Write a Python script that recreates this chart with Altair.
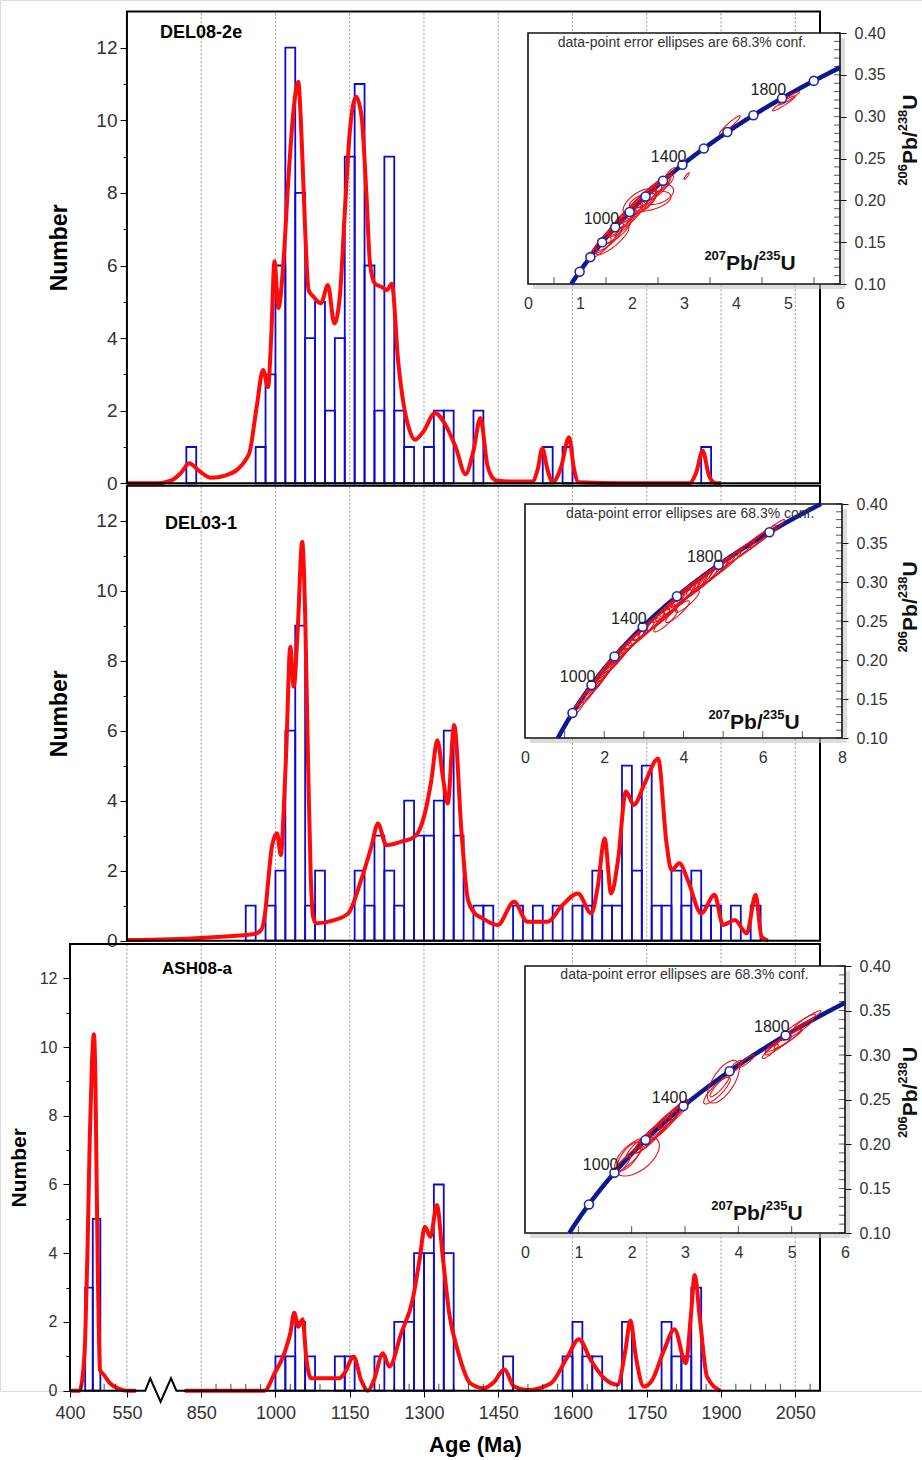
import altair as alt
import numpy as np
import pandas as pd

FONT = "Arial"
W, H = 922, 1391
L238, L235 = 1.55125e-10, 9.8485e-10

# ---------------- histogram data (lower bin edge, Ma; 20 Ma bins) ----------------
P1_BIN = [820, 960, 980, 1000, 1020, 1040, 1060, 1080, 1100, 1120, 1140, 1160, 1180, 1200, 1220, 1240,
          1260, 1300, 1320, 1340, 1400, 1540, 1580, 1860]
P1_N = [1, 1, 3, 6, 12, 8, 4, 5, 2, 4, 9, 11, 6, 2, 9, 2, 1, 1, 2, 2, 2, 1, 1, 1]

P2_BIN = [940, 980, 1000, 1020, 1040, 1060, 1080, 1160, 1180, 1200, 1220, 1240, 1260, 1280, 1300, 1320,
          1340, 1360, 1400, 1420, 1480, 1520, 1560, 1600, 1620, 1640, 1660, 1680, 1700, 1720, 1740, 1760,
          1780, 1800, 1820, 1840, 1860, 1880, 1920, 1960]
P2_N = [1, 1, 2, 6, 9, 1, 2, 2, 1, 3, 2, 1, 4, 3, 3, 4, 6, 3, 1, 1, 1, 1, 1, 1, 1, 2, 1, 1, 5, 2, 5, 1,
        1, 2, 1, 2, 1, 1, 1, 1]

P3_BIN = [440, 460, 1000, 1020, 1040, 1060, 1120, 1140, 1200, 1240, 1260, 1280, 1300, 1320, 1340, 1460,
          1580, 1600, 1620, 1640, 1700, 1780, 1800, 1820, 1840]
P3_N = [3, 5, 1, 1, 2, 1, 1, 1, 1, 2, 2, 4, 4, 6, 4, 1, 1, 2, 1, 1, 2, 2, 1, 1, 3]

# ---------------- probability density curves (age Ma, number) ----------------
P1_AGE = [700, 760, 790, 810, 826, 845, 870, 900, 925, 940, 948, 962, 975, 985, 992, 998, 1006, 1016,
          1026, 1036, 1046, 1053, 1060, 1067, 1077, 1092, 1106, 1119, 1130, 1140, 1150, 1163, 1174, 1184,
          1191, 1201, 1215, 1225, 1235, 1248, 1259, 1270, 1282, 1300, 1322, 1343, 1364, 1384, 1400, 1414,
          1428, 1436, 1446, 1480, 1519, 1530, 1539, 1550, 1560, 1577, 1593, 1603, 1612, 1700, 1836, 1850,
          1863, 1876, 1890, 1900]
P1_VAL = [0, 0, 0.08, 0.3, 0.55, 0.35, 0.15, 0.22, 0.4, 0.65, 0.87, 2.1, 3.12, 2.65, 4.2, 6.12, 4.83,
          6.07, 8.35, 10.2, 11.06, 9.46, 6.98, 5.32, 5.14, 4.96, 5.46, 4.4, 5.14, 7.44, 9.65, 10.65, 10.1,
          7.9, 6.05, 5.5, 5.41, 5.32, 5.5, 3.35, 2.17, 1.5, 1.2, 1.45, 1.94, 1.62, 1.0, 0.25, 0.9, 1.8,
          0.5, 0.2, 0.08, 0.05, 0.05, 0.4, 0.96, 0.35, 0.03, 0.45, 1.27, 0.4, 0.03, 0, 0, 0.3,
          0.9, 0.2, 0, 0]

P2_AGE = [700, 850, 957, 971, 980, 986, 993, 1003, 1011, 1016, 1022, 1030, 1037, 1045, 1054, 1060, 1066,
          1071, 1076, 1082, 1119, 1147, 1173, 1194, 1207, 1224, 1254, 1281, 1302, 1315, 1327, 1339, 1348,
          1361, 1376, 1389, 1403, 1416, 1449, 1482, 1509, 1550, 1577, 1611, 1638, 1651, 1665, 1678, 1692,
          1708, 1724, 1746, 1773, 1790, 1800, 1816, 1833, 1860, 1887, 1904, 1928, 1952, 1970, 1982, 1995]
P2_VAL = [0.02, 0.08, 0.19, 0.3, 0.9, 1.8, 2.7, 3.07, 2.45, 3.5, 5.5, 8.4, 7.26, 8.9, 11.4, 9.35, 5.0,
          2.0, 0.69, 0.5, 0.59, 0.78, 1.73, 2.7, 3.35, 2.73, 2.83, 2.97, 3.65, 4.59, 5.73, 4.59, 3.92,
          6.16, 3.07, 1.16, 0.78, 0.66, 0.45, 1.11, 0.54, 0.54, 0.97, 1.35, 0.78, 1.54, 2.92, 1.35, 2.3,
          4.26, 3.88, 4.5, 5.2, 2.78, 2.02, 2.21, 1.73, 0.78, 1.31, 0.45, 0.59, 0.21, 1.31, 0.11, 0]

P3A_AGE = [400, 425, 432, 440, 446, 452, 458, 463, 467, 470, 474, 479, 490, 505, 530, 550, 586]
P3A_VAL = [0, 0, 0.3, 1.5, 4.0, 7.3, 9.6, 10.37, 9.0, 6.3, 3.0, 0.6, 0.45, 0.22, 0.05, 0, 0]
P3B_AGE = [784, 850, 978, 998, 1018, 1030, 1038, 1046, 1055, 1062, 1072, 1100, 1129, 1139, 1158, 1173,
           1187, 1199, 1217, 1230, 1254, 1277, 1291, 1302, 1313, 1326, 1338, 1351, 1368, 1394, 1421, 1442,
           1462, 1482, 1509, 1556, 1590, 1613, 1637, 1664, 1691, 1707, 1717, 1728, 1744, 1761, 1785, 1806,
           1829, 1839, 1847, 1857, 1872, 1899]
P3B_VAL = [0, 0, 0, 0.5, 1.09, 1.67, 2.27, 1.86, 2.08, 0.99, 0.36, 0.36, 0.36, 0.5, 0.99, 0.31, 0.0,
           0.31, 1.09, 0.7, 1.67, 2.64, 3.8, 4.77, 4.48, 5.4, 3.9, 2.25, 1.18, 0.21, 0.07, 0.26, 0.62,
           0.12, 0.02, 0.21, 0.99, 1.5, 0.89, 0.36, 0.17, 1.18, 2.04, 0.99, 0.12, 0.31, 1.18, 1.79, 0.8,
           2.15, 3.37, 2.15, 0.4, 0]

# ---------------- concordia insets: error ellipses (x, sx, y, sy, rho) ----------------
E1 = [(1.40, 0.20, 0.144, 0.012, 0.8), (1.48, 0.22, 0.150, 0.013, 0.8), (1.55, 0.25, 0.154, 0.014, 0.8),
      (1.62, 0.22, 0.160, 0.013, 0.8), (1.70, 0.28, 0.163, 0.015, 0.8), (1.75, 0.22, 0.170, 0.012, 0.8),
      (1.80, 0.25, 0.171, 0.014, 0.8), (1.86, 0.22, 0.178, 0.012, 0.8), (1.92, 0.28, 0.180, 0.015, 0.8),
      (1.98, 0.22, 0.186, 0.012, 0.8), (2.05, 0.25, 0.188, 0.014, 0.8), (2.12, 0.22, 0.195, 0.012, 0.8),
      (2.18, 0.28, 0.196, 0.015, 0.8), (2.25, 0.22, 0.203, 0.012, 0.8), (2.32, 0.25, 0.205, 0.014, 0.8),
      (2.40, 0.22, 0.211, 0.012, 0.8), (2.47, 0.25, 0.213, 0.014, 0.8), (2.55, 0.20, 0.219, 0.011, 0.8),
      (2.62, 0.18, 0.220, 0.010, 0.8), (2.35, 0.40, 0.199, 0.012, 0.45), (2.50, 0.30, 0.207, 0.012, 0.4),
      (2.15, 0.32, 0.198, 0.016, 0.6), (1.62, 0.32, 0.152, 0.017, 0.85), (2.72, 0.10, 0.232, 0.007, 0.9),
      (3.05, 0.05, 0.229, 0.004, 0.9), (3.88, 0.20, 0.290, 0.011, 0.95), (4.92, 0.22, 0.316, 0.009, 0.95),
      (5.02, 0.20, 0.322, 0.008, 0.95)]
E2 = [(1.30, 0.18, 0.136, 0.010, 0.9), (1.50, 0.25, 0.150, 0.014, 0.93), (1.62, 0.30, 0.158, 0.016, 0.95),
      (1.72, 0.30, 0.164, 0.016, 0.95), (1.80, 0.30, 0.170, 0.016, 0.95), (1.88, 0.30, 0.175, 0.016, 0.95),
      (1.96, 0.30, 0.181, 0.016, 0.95), (2.05, 0.30, 0.186, 0.016, 0.95), (2.15, 0.35, 0.192, 0.017, 0.95),
      (2.25, 0.35, 0.198, 0.017, 0.95), (2.35, 0.35, 0.205, 0.017, 0.95), (2.45, 0.35, 0.210, 0.017, 0.95),
      (2.55, 0.35, 0.216, 0.017, 0.95), (2.65, 0.35, 0.220, 0.017, 0.95), (2.75, 0.35, 0.226, 0.017, 0.95),
      (2.88, 0.38, 0.231, 0.018, 0.95), (3.00, 0.40, 0.236, 0.018, 0.95), (3.12, 0.40, 0.243, 0.018, 0.95),
      (3.25, 0.40, 0.247, 0.018, 0.95), (3.40, 0.40, 0.253, 0.018, 0.95), (3.52, 0.45, 0.258, 0.020, 0.95),
      (3.62, 0.40, 0.266, 0.018, 0.95), (3.75, 0.45, 0.270, 0.020, 0.95), (3.85, 0.45, 0.276, 0.020, 0.95),
      (3.95, 0.45, 0.279, 0.020, 0.95), (4.05, 0.45, 0.286, 0.020, 0.95), (4.15, 0.45, 0.288, 0.020, 0.95),
      (4.28, 0.45, 0.294, 0.020, 0.95), (4.40, 0.45, 0.297, 0.020, 0.95), (4.52, 0.45, 0.303, 0.020, 0.95),
      (4.65, 0.45, 0.307, 0.020, 0.95), (4.78, 0.42, 0.313, 0.019, 0.95), (4.90, 0.40, 0.317, 0.018, 0.95),
      (5.05, 0.40, 0.322, 0.017, 0.95), (5.35, 0.45, 0.335, 0.018, 0.97), (5.60, 0.50, 0.344, 0.020, 0.97),
      (5.85, 0.50, 0.353, 0.020, 0.97), (6.10, 0.45, 0.362, 0.018, 0.97), (3.55, 0.30, 0.250, 0.014, 0.9),
      (3.85, 0.30, 0.262, 0.014, 0.9), (4.10, 0.30, 0.275, 0.014, 0.9)]
E3 = [(1.80, 0.18, 0.175, 0.012, 0.9), (1.95, 0.25, 0.183, 0.014, 0.9), (2.10, 0.42, 0.186, 0.022, 0.55),
      (1.95, 0.22, 0.186, 0.016, 0.7), (2.05, 0.15, 0.195, 0.010, 0.9), (2.30, 0.25, 0.205, 0.015, 0.9),
      (2.35, 0.30, 0.208, 0.018, 0.9), (2.45, 0.30, 0.213, 0.017, 0.93), (2.55, 0.30, 0.220, 0.017, 0.93),
      (2.60, 0.30, 0.222, 0.018, 0.9), (2.65, 0.30, 0.226, 0.017, 0.93), (2.75, 0.25, 0.232, 0.015, 0.93),
      (2.80, 0.25, 0.233, 0.014, 0.9), (2.88, 0.18, 0.238, 0.012, 0.93), (3.60, 0.25, 0.260, 0.015, 0.85),
      (3.72, 0.30, 0.270, 0.024, 0.65), (3.65, 0.18, 0.265, 0.012, 0.9), (3.95, 0.12, 0.287, 0.007, 0.8),
      (4.15, 0.15, 0.293, 0.007, 0.9), (4.60, 0.15, 0.304, 0.008, 0.9), (4.75, 0.25, 0.311, 0.011, 0.93),
      (4.85, 0.35, 0.316, 0.013, 0.95), (4.92, 0.25, 0.318, 0.011, 0.93), (5.10, 0.30, 0.328, 0.012, 0.95),
      (5.15, 0.30, 0.334, 0.012, 0.95), (5.30, 0.25, 0.340, 0.010, 0.95)]

C1_AGES = [700, 800, 900, 1000, 1100, 1200, 1300, 1400, 1500, 1600, 1700, 1800, 1900]
C2_AGES = [800, 1000, 1200, 1400, 1600, 1800, 2000]
C3_AGES = [800, 1000, 1200, 1400, 1600, 1800]
C_LABELS = [1000, 1400, 1800]
CONC_T = list(range(615, 2170, 5))

GRID_TOP = [850, 1000, 1150, 1300, 1450, 1600, 1750, 1900, 2050]
GRID_BOT = [700] + GRID_TOP
XTICK_VALS = [585, 700, 850, 1000, 1150, 1300, 1450, 1600, 1750, 1900, 2050]
XMINOR = [608, 631, 654, 677] + [v for v in range(880, 2100, 30) if (v - 850) % 150 != 0]

NOTE = "data-point  error  ellipses  are  68.3%  conf."
RX = ["207", "Pb/", "235", "U"]
RY = ["206", "Pb/", "238", "U"]


def disp3(age):
    """age -> display coordinate of the broken axis of the bottom panel"""
    if age <= 550:
        return 585 + (age - 400) * 115 / 150
    if age < 850:
        return 700 + (age - 550) * 0.5
    return age


def conc(ts):
    t = np.asarray(ts, dtype=float) * 1e6
    return np.exp(L235 * t) - 1, np.exp(L238 * t) - 1


def xsc():
    return alt.Scale(domain=[585, 2100], range=[70, 820], nice=False, zero=False)


PY = {1: [483.3, 11.4], 2: [940.7, 485.7], 3: [1390.7, 943.9]}


def ysc(p):
    return alt.Scale(domain=[0, 13], range=PY[p], nice=False, zero=False)


layers = []


def panel(p, bins, counts, curve, name, name_xy, x_left, grid, yopts, conv=lambda a: a):
    lo = [conv(b) for b in bins]
    hi = [conv(b + 20) for b in bins]
    bars = pd.DataFrame({"lo": lo, "hi": hi, "n": counts, "z": [0] * len(bins)})
    gdf = pd.DataFrame({"d": grid, "y0": [0] * len(grid), "y1": [13] * len(grid)})
    frame = pd.DataFrame({"x0": [x_left], "x1": [2100], "y0": [0], "y1": [13]})
    off = yopts["offset"]
    layers.append(alt.Chart(gdf).mark_rule(color="#8a8a8a", strokeDash=[2, 2], strokeWidth=0.9).encode(
        x=alt.X("d:Q", scale=xsc(), axis=None),
        y=alt.Y("y0:Q", scale=ysc(p), axis=alt.Axis(orient="left", offset=off, values=[1, 3, 5, 7, 9, 11],
                                                     labels=False, tickSize=4, tickColor="black",
                                                     domain=False, grid=False, title="")),
        y2="y1:Q"))
    layers.append(alt.Chart(bars).mark_rect(fillOpacity=0, stroke="#0a0ad2", strokeWidth=1.8).encode(
        x=alt.X("lo:Q", scale=xsc(), axis=None), x2="hi:Q",
        y=alt.Y("n:Q", scale=ysc(p), axis=None), y2="z:Q"))
    layers.append(alt.Chart(curve).mark_line(color="#ff0a0a", strokeWidth=4, interpolate="monotone").encode(
        x=alt.X("d:Q", scale=xsc(), axis=None),
        y=alt.Y("v:Q", scale=ysc(p), axis=None),
        detail="seg:N", order="k:Q"))
    xaxis = None
    if p == 3:
        xaxis = alt.Axis(orient="bottom", values=XTICK_VALS, format="d",
                         labelExpr="datum.value == 585 ? '400' : (datum.value == 700 ? '550' : datum.label)",
                         tickSize=6, tickColor="black", labelPadding=7, labelFontSize=18, labelColor="#333",
                         labelFont=FONT, domain=False, grid=False, labelFlush=False, labelOverlap=False,
                         title="Age (Ma)", titleFont=FONT, titleFontSize=22, titleFontWeight="bold",
                         titleColor="black", titlePadding=12, titleX=475)
    layers.append(alt.Chart(frame).mark_rect(fillOpacity=0, stroke="black", strokeWidth=2).encode(
        x=alt.X("x0:Q", scale=xsc(), axis=xaxis), x2="x1:Q",
        y=alt.Y("y0:Q", scale=ysc(p), axis=alt.Axis(
            orient="left", offset=off, values=[0, 2, 4, 6, 8, 10, 12], format="d", tickSize=7,
            tickColor="black", labelPadding=yopts["lp"], labelFontSize=yopts["lfs"], labelColor="#333",
            labelFont=FONT, domain=False, grid=False, labelFlush=False, labelOverlap=False,
            title="Number", titleFont=FONT, titleFontSize=yopts["tfs"], titleFontWeight="bold",
            titleColor="black", titlePadding=yopts["tp"])),
        y2="y1:Q"))
    nd = pd.DataFrame({"d": [name_xy[0]], "v": [name_xy[1]], "t": [name]})
    layers.append(alt.Chart(nd).mark_text(align="left", baseline="middle", font=FONT, fontSize=yopts["nfs"],
                                          fontWeight="bold", color="black").encode(
        x=alt.X("d:Q", scale=xsc(), axis=None), y=alt.Y("v:Q", scale=ysc(p), axis=None), text="t:N"))


def curve_df(ages, vals, conv=lambda a: a, seg=0):
    return pd.DataFrame({"d": [conv(a) for a in ages], "v": vals, "seg": [seg] * len(ages),
                         "k": list(range(len(ages)))})


panel(1, P1_BIN, P1_N, curve_df(P1_AGE, P1_VAL), "DEL08-2e", (767, 12.4), 700, GRID_TOP,
      dict(offset=-127, lp=3, lfs=19, tfs=23, tp=24, nfs=18))
panel(2, P2_BIN, P2_N, curve_df(P2_AGE, P2_VAL), "DEL03-1", (777, 11.9), 700, GRID_TOP,
      dict(offset=-127, lp=3, lfs=19, tfs=23, tp=24, nfs=18))
c3 = pd.concat([curve_df(P3A_AGE, P3A_VAL, disp3, 0), curve_df(P3B_AGE, P3B_VAL, disp3, 1)])
panel(3, P3_BIN, P3_N, c3, "ASH08-a", (771, 12.27), 585, GRID_BOT,
      dict(offset=-70, lp=6, lfs=16, tfs=21, tp=10, nfs=17), conv=disp3)

mt = pd.DataFrame({"d": XMINOR, "v": [0] * len(XMINOR)})
layers.append(alt.Chart(mt).mark_tick(orient="vertical", size=7, thickness=1, color="black", yOffset=-3.5).encode(
    x=alt.X("d:Q", scale=xsc(), axis=None), y=alt.Y("v:Q", scale=ysc(3), axis=None)))
ZZ_D = [718, 737, 747, 768, 789, 800, 817]
ZZ_V = [0, 0, 0.36, -0.32, 0.36, 0, 0]
cover = pd.DataFrame({"d0": [720], "d1": [815], "v": [0]})
layers.append(alt.Chart(cover).mark_rule(color="white", strokeWidth=4).encode(
    x=alt.X("d0:Q", scale=xsc(), axis=None), x2="d1:Q", y=alt.Y("v:Q", scale=ysc(3), axis=None)))
zz = pd.DataFrame({"d": ZZ_D, "v": ZZ_V, "k": list(range(len(ZZ_D)))})
layers.append(alt.Chart(zz).mark_line(color="black", strokeWidth=2).encode(
    x=alt.X("d:Q", scale=xsc(), axis=None), y=alt.Y("v:Q", scale=ysc(3), axis=None), order="k:Q"))


def ellipse_df(E):
    th = np.linspace(0, 2 * np.pi, 61)
    rows = []
    for i, (cx, sx, cy, sy, r) in enumerate(E):
        xs_ = cx + sx * np.cos(th)
        ys_ = cy + sy * (r * np.cos(th) + np.sqrt(1 - r * r) * np.sin(th))
        for k in range(len(th)):
            rows.append({"id": i, "k": k, "x": xs_[k], "y": ys_[k]})
    return pd.DataFrame(rows)


def conc_df(xmax):
    t0 = np.log(1.10) / L238 / 1e6
    t1 = min(np.log(1 + xmax) / L235, np.log(1.40) / L238) / 1e6
    ts = [t0] + [t for t in CONC_T if t0 < t < t1] + [t1]
    x, y = conc(ts)
    return pd.DataFrame({"t": ts, "x": x, "y": y})


# widths (px) of the pieces of a ratio label: superscript 13px bold, main 21px bold
PIECE_W = [21.7, 32.7, 21.7, 15.2]


def ratio_label(XY, x, y, pieces, angle=0):
    total = sum(PIECE_W)
    start = -total / 2
    for i, t in enumerate(pieces):
        sup = i % 2 == 0
        kw = dict(align="left", baseline="middle", font=FONT, fontWeight="bold", color="#111",
                  fontSize=13 if sup else 21, dx=start, dy=-7 if sup else 1)
        if angle:
            kw["angle"] = angle
        layers.append(alt.Chart(pd.DataFrame({"x": [x], "y": [y], "t": [t]})).mark_text(**kw).encode(
            **XY(), text="t:N"))
        start += PIECE_W[i]


def inset(xmax, xr, yr, ell, ages, minor_x, xlabels, note_xy, ratio_xy, title_xy, xoff, yoff):
    sx = alt.Scale(domain=[0, xmax], range=xr, nice=False, zero=False)
    sy = alt.Scale(domain=[0.10, 0.40], range=yr, nice=False, zero=False)

    def XY(xf="x:Q", yf="y:Q", xa=None, ya=None):
        return dict(x=alt.X(xf, scale=sx, axis=xa), y=alt.Y(yf, scale=sy, axis=ya))

    box = pd.DataFrame({"x0": [0], "x1": [xmax], "y0": [0.10], "y1": [0.40]})
    layers.append(alt.Chart(box).mark_rect(color="#c4c4c4", opacity=0.6, xOffset=5, x2Offset=5,
                                           yOffset=5, y2Offset=5).encode(
        **XY("x0:Q", "y0:Q"), x2="x1:Q", y2="y1:Q"))
    xa = alt.Axis(orient="bottom", offset=xoff, values=xlabels, format="d", ticks=False, labelPadding=11,
                  labelFontSize=16, labelColor="#333", labelFont=FONT, domain=False, grid=False,
                  labelFlush=False, labelOverlap=False, title="", zindex=3)
    ya = alt.Axis(orient="right", offset=yoff, values=[0.10, 0.15, 0.20, 0.25, 0.30, 0.35, 0.40],
                  format=".2f", tickSize=6, tickColor="#111", labelPadding=8, labelFontSize=16,
                  labelColor="#333", labelFont=FONT, domain=False, grid=False, labelFlush=False,
                  labelOverlap=False, title="", zindex=3)
    layers.append(alt.Chart(box).mark_rect(fill="white", stroke="#111", strokeWidth=1.6).encode(
        **XY("x0:Q", "y0:Q", xa, ya), x2="x1:Q", y2="y1:Q"))
    yt = [round(0.10 + 0.01 * i, 2) for i in range(31)]
    layers.append(alt.Chart(pd.DataFrame({"x": [xmax] * len(yt), "y": yt})).mark_tick(
        orient="horizontal", size=6, thickness=1, color="#111", xOffset=-3).encode(**XY()))
    layers.append(alt.Chart(pd.DataFrame({"x": minor_x, "y": [0.10] * len(minor_x)})).mark_tick(
        orient="vertical", size=7, thickness=1, color="#111", yOffset=-3.5).encode(**XY()))
    layers.append(alt.Chart(conc_df(xmax)).mark_line(color="#0b1890", strokeWidth=4.5).encode(
        **XY(), order="t:Q"))
    layers.append(alt.Chart(ellipse_df(ell)).mark_line(color="#e8101a", strokeWidth=1.1).encode(
        **XY(), detail="id:N", order="k:Q"))
    cx, cy = conc(ages)
    layers.append(alt.Chart(pd.DataFrame({"x": cx, "y": cy})).mark_point(
        shape="circle", filled=True, fill="white", stroke="#1c2aa8", strokeWidth=1.6, size=80,
        opacity=1).encode(**XY()))
    lx, ly = conc(C_LABELS)
    layers.append(alt.Chart(pd.DataFrame({"x": lx, "y": ly, "t": [str(a) for a in C_LABELS]})).mark_text(
        align="right", baseline="bottom", dx=4, dy=0, font=FONT, fontSize=16, color="#222").encode(
        **XY(), text="t:N"))
    layers.append(alt.Chart(pd.DataFrame({"x": [note_xy[0]], "y": [note_xy[1]], "t": [NOTE]})).mark_text(
        align="center", baseline="middle", font=FONT, fontSize=14, color="#333").encode(**XY(), text="t:N"))
    ratio_label(XY, ratio_xy[0], ratio_xy[1], RX)
    ratio_label(XY, title_xy[0], title_xy[1], RY, angle=270)


inset(6, [528, 840], [284, 33], E1, C1_AGES, [0.5, 1.5, 2.5, 3.5, 4.5, 5.5], [0, 1, 2, 3, 4, 5, 6],
      (2.96, 0.388), (4.27, 0.125), (7.35, 0.272), -1107, -82)
inset(8, [525, 842], [738, 504], E2, C2_AGES, [1, 2, 3, 4, 5, 6, 7], [0, 2, 4, 6, 8],
      (4.17, 0.387), (5.78, 0.12), (9.72, 0.268), -653, -80)
inset(6, [525, 845], [1233, 966], E3, C3_AGES, [1, 2, 3, 4, 5], [0, 1, 2, 3, 4, 5, 6],
      (2.99, 0.39), (4.35, 0.122), (7.22, 0.258), -158, -77)

chart = alt.layer(*layers).resolve_scale(x="independent", y="independent").resolve_axis(
    x="independent", y="independent").properties(
    width=W, height=H, padding={"left": 0, "right": 0, "top": 0, "bottom": 69},
    autosize=alt.AutoSizeParams(type="none")).configure_view(stroke=None).configure(
    background="white", font=FONT)

chart.save("out.html", embed_options={"renderer": "svg", "actions": False})
